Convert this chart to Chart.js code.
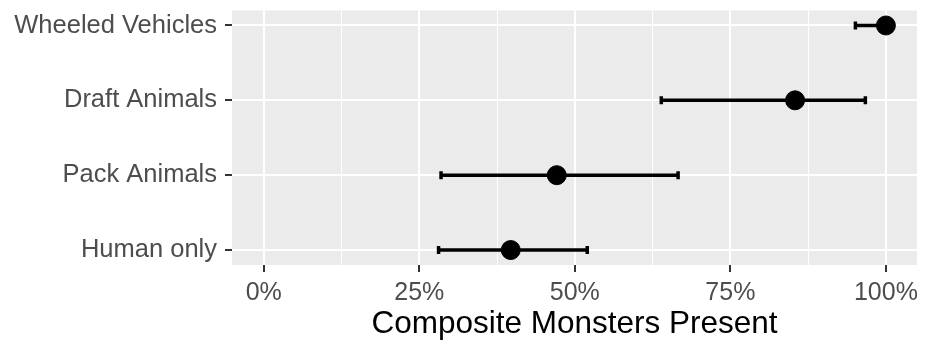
<!DOCTYPE html>
<html>
<head>
<meta charset="utf-8">
<script src="https://cdn.jsdelivr.net/npm/chart.js@4"></script>
<style>
  html, body { margin: 0; padding: 0; background: #fff; }
  #wrap { width: 928px; height: 343px; }
</style>
</head>
<body>
<div id="wrap"><canvas id="chart" width="928" height="343"></canvas></div>
<script>
// Categories, bottom to top
const categories = ['Human only', 'Pack Animals', 'Draft Animals', 'Wheeled Vehicles'];
// Share with composite monsters (%)
const estimates = [39.7, 47.1, 85.4, 100];
const lowerBounds = [28.1, 28.5, 63.9, 95.1];
const upperBounds = [52.0, 66.6, 96.7, 100];
// Axis ticks
const xTicks = [0, 12.5, 25, 37.5, 50, 62.5, 75, 87.5, 100];
const xLabelTicks = [0, 25, 50, 75, 100];

const FONT = '"Liberation Sans", Arial, Helvetica, sans-serif';

// Grey panel background like ggplot
const panelBg = {
    id: 'panelBg',
    beforeDraw(chart) {
        const { ctx, chartArea } = chart;
        ctx.save();
        ctx.fillStyle = '#EBEBEB';
        ctx.fillRect(chartArea.left, chartArea.top, chartArea.right - chartArea.left, chartArea.bottom - chartArea.top);
        ctx.restore();
    }
};

// Error bars, drawn under the points
const errorBars = {
    id: 'errorBars',
    beforeDatasetsDraw(chart) {
        const { ctx, scales } = chart;
        const x = scales.x, y = scales.y;
        ctx.save();
        ctx.strokeStyle = '#000';
        ctx.lineWidth = 3.5;
        categories.forEach((c, i) => {
            const py = y.getPixelForValue(i + 1);
            const x0 = x.getPixelForValue(lowerBounds[i]);
            const x1 = x.getPixelForValue(upperBounds[i]);
            ctx.beginPath();
            ctx.moveTo(x0, py);
            ctx.lineTo(x1, py);
            ctx.moveTo(x0, py - 4);
            ctx.lineTo(x0, py + 4);
            ctx.moveTo(x1, py - 4);
            ctx.lineTo(x1, py + 4);
            ctx.stroke();
        });
        ctx.restore();
    }
};

new Chart(document.getElementById('chart'), {
    type: 'scatter',
    data: {
        datasets: [{
            data: estimates.map((v, i) => ({ x: v, y: i + 1 })),
            backgroundColor: '#000',
            borderColor: '#000',
            pointRadius: 9.5,
            pointHoverRadius: 9.5
        }]
    },
    options: {
        responsive: false,
        animation: false,
        layout: { padding: { top: 9, right: 11, left: 0, bottom: 0 } },
        plugins: {
            legend: { display: false },
            tooltip: { enabled: false }
        },
        scales: {
            x: {
                type: 'linear',
                min: -5.1,
                max: 105,
                afterBuildTicks: scale => { scale.ticks = xTicks.map(v => ({ value: v })); },
                afterFit: scale => { scale.height = 78; },
                border: { display: false },
                grid: {
                    color: '#fff',
                    lineWidth: c => (xLabelTicks.includes(c.tick.value) ? 2 : 1),
                    tickColor: c => (xLabelTicks.includes(c.tick.value) ? '#333' : 'rgba(0,0,0,0)'),
                    tickWidth: 2,
                    tickLength: 7
                },
                ticks: {
                    autoSkip: false,
                    maxRotation: 0,
                    padding: 6,
                    color: '#4D4D4D',
                    font: { family: FONT, size: 25 },
                    callback: v => (xLabelTicks.includes(v) ? v + '%' : '')
                },
                title: {
                    display: true,
                    text: 'Composite Monsters Present',
                    color: '#000',
                    font: { family: FONT, size: 31.5 },
                    padding: { top: 0, bottom: 0 }
                }
            },
            y: {
                type: 'linear',
                min: 0.8,
                max: 4.2,
                afterBuildTicks: scale => { scale.ticks = categories.map((c, i) => ({ value: i + 1 })); },
                afterFit: scale => {
                    scale.width = 232;
                    scale.paddingTop = 0;
                    scale.paddingBottom = 0;
                },
                border: { display: false },
                grid: {
                    color: '#fff',
                    lineWidth: 2,
                    tickColor: '#333',
                    tickWidth: 2,
                    tickLength: 7
                },
                ticks: {
                    autoSkip: false,
                    padding: 8,
                    color: '#4D4D4D',
                    font: { family: FONT, size: 25.5 },
                    callback: v => categories[v - 1]
                }
            }
        }
    },
    plugins: [panelBg, errorBars]
});
</script>
</body>
</html>
